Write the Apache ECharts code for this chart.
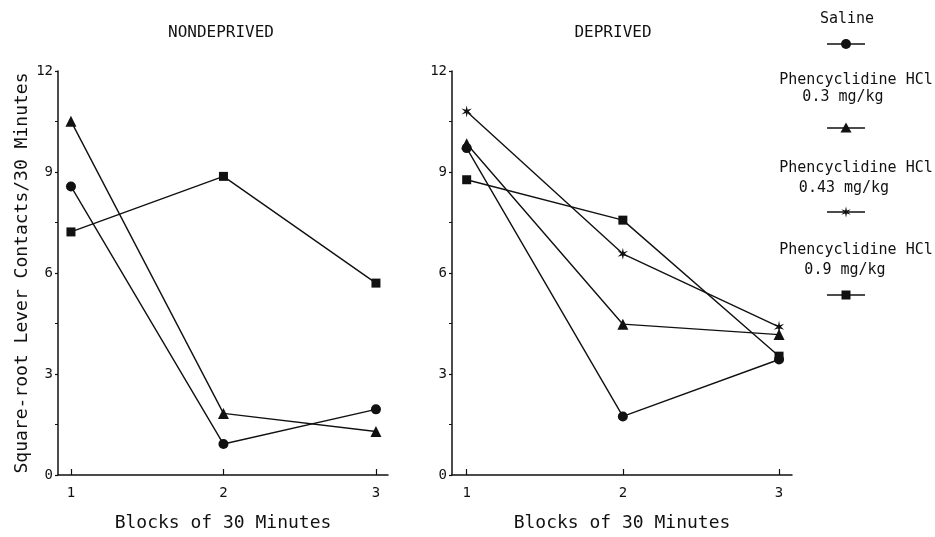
<!DOCTYPE html>
<html>
<head>
<meta charset="utf-8">
<script src="https://cdn.jsdelivr.net/npm/echarts@6/dist/echarts.min.js"></script>
<style>html,body{margin:0;padding:0;background:#fff;}#c{width:935px;height:537px;}</style>
</head>
<body>
<div id="c"></div>
<script>
// ---- data ----
const blocks = [1, 2, 3];
const yTicks = [0, 3, 6, 9, 12];
const panelTitles = ['NONDEPRIVED', 'DEPRIVED'];
const xAxisName = 'Blocks of 30 Minutes';
const yAxisName = 'Square-root Lever Contacts/30 Minutes';
const seriesNames = ['Saline', 'Phencyclidine HCl 0.3 mg/kg', 'Phencyclidine HCl 0.43 mg/kg', 'Phencyclidine HCl 0.9 mg/kg'];
// Nondeprived panel
const nondepSaline = [8.57, 0.92, 1.95];
const nondepPcp03 = [10.51, 1.83, 1.29];
const nondepPcp09 = [7.22, 8.87, 5.70];
// Deprived panel
const depSaline = [9.71, 1.74, 3.43];
const depPcp03 = [9.84, 4.48, 4.17];
const depPcp043 = [10.80, 6.57, 4.40];
const depPcp09 = [8.77, 7.57, 3.53];

// ---- style ----
const FONT = 'DejaVu Sans Mono';
const INK = '#111';
function starPath() {
  const pts = [];
  for (let i = 0; i < 12; i++) {
    const a = -Math.PI / 2 + i * Math.PI / 6;
    const r = i % 2 === 0 ? 10 : 3.2;
    pts.push((10 + r * Math.cos(a)).toFixed(2) + ' ' + (10 + r * Math.sin(a)).toFixed(2));
  }
  return 'path://M' + pts.join(' L') + ' Z';
}
const STAR = starPath();
const markers = {
  saline: { symbol: 'circle', size: 10 },
  pcp03: { symbol: 'triangle', size: 11 },
  pcp043: { symbol: STAR, size: 12 },
  pcp09: { symbol: 'rect', size: 9 }
};

function pairs(vals) { return blocks.map((b, i) => [b, vals[i]]); }
function mkSeries(name, vals, mk, idx) {
  return {
    name: name, type: 'line', xAxisIndex: idx, yAxisIndex: idx,
    data: pairs(vals), symbol: mk.symbol, symbolSize: mk.size, symbolKeepAspect: true,
    itemStyle: { color: INK }, lineStyle: { color: INK, width: 1.4 },
    animation: false
  };
}

const grids = [
  { left: 58, top: 71, width: 330, height: 408 },
  { left: 452, top: 71, width: 340, height: 408 }
];
const xRanges = [[0.915, 3.079], [0.906, 3.083]];

const xAxes = grids.map((g, i) => ({
  type: 'value', gridIndex: i, min: xRanges[i][0], max: xRanges[i][1],
  name: xAxisName, nameLocation: 'middle', nameGap: 39,
  nameTextStyle: { fontFamily: FONT, fontSize: 18, color: INK },
  axisLine: { lineStyle: { color: INK, width: 1.5 } },
  axisTick: { inside: true, length: 6, customValues: blocks, lineStyle: { color: INK, width: 1.2 } },
  axisLabel: { customValues: blocks, margin: 11, fontFamily: FONT, fontSize: 14, color: INK },
  splitLine: { show: false }
}));
const yAxes = grids.map((g, i) => ({
  type: 'value', gridIndex: i, min: 0, max: 12, interval: 3,
  name: i === 0 ? yAxisName : '', nameLocation: 'middle', nameGap: 27,
  nameTextStyle: { fontFamily: FONT, fontSize: 18, color: INK },
  axisLine: { show: true, lineStyle: { color: INK, width: 1.5 } },
  axisTick: { show: true, length: 3, lineStyle: { color: INK, width: 1.2 } },
  minorTick: { show: true, splitNumber: 2, length: 3, lineStyle: { color: INK } },
  axisLabel: { margin: 5, fontFamily: FONT, fontSize: 14, color: INK },
  splitLine: { show: false }
}));

const series = [
  mkSeries(seriesNames[0], nondepSaline, markers.saline, 0),
  mkSeries(seriesNames[1], nondepPcp03, markers.pcp03, 0),
  mkSeries(seriesNames[3], nondepPcp09, markers.pcp09, 0),
  mkSeries(seriesNames[0], depSaline, markers.saline, 1),
  mkSeries(seriesNames[1], depPcp03, markers.pcp03, 1),
  mkSeries(seriesNames[2], depPcp043, markers.pcp043, 1),
  mkSeries(seriesNames[3], depPcp09, markers.pcp09, 1)
];

// ---- titles & legend (graphic) ----
function txt(s, x, y, size, align) {
  return { type: 'text', x: x, y: y, silent: true,
    style: { text: s, fontFamily: FONT, fontSize: size, fill: INK, align: align || 'center', verticalAlign: 'middle' } };
}
const graphic = [
  txt(panelTitles[0], 221, 33, 16),
  txt(panelTitles[1], 613, 33, 16)
];
const LX = 846;
function legendMarker(y, kind) {
  const els = [{ type: 'line', silent: true, shape: { x1: LX - 19, y1: y, x2: LX + 19, y2: y }, style: { stroke: INK, lineWidth: 1.4 } }];
  if (kind === 'circle') els.push({ type: 'circle', silent: true, shape: { cx: LX, cy: y, r: 5 }, style: { fill: INK } });
  if (kind === 'triangle') els.push({ type: 'polygon', silent: true, shape: { points: [[LX, y - 5.5], [LX + 5.5, y + 4.5], [LX - 5.5, y + 4.5]] }, style: { fill: INK } });
  if (kind === 'rect') els.push({ type: 'rect', silent: true, shape: { x: LX - 4.5, y: y - 4.5, width: 9, height: 9 }, style: { fill: INK } });
  if (kind === 'star') {
    const pts = [];
    for (let i = 0; i < 12; i++) {
      const a = -Math.PI / 2 + i * Math.PI / 6;
      const r = i % 2 === 0 ? 5.5 : 1.8;
      pts.push([LX + r * Math.cos(a), y + r * Math.sin(a)]);
    }
    els.push({ type: 'polygon', silent: true, shape: { points: pts }, style: { fill: INK } });
  }
  return els;
}
graphic.push(txt('Saline', 847, 19, 15));
graphic.push(...legendMarker(44, 'circle'));
graphic.push(txt('Phencyclidine HCl', 856, 80, 15));
graphic.push(txt('0.3 mg/kg', 843, 97, 15));
graphic.push(...legendMarker(128, 'triangle'));
graphic.push(txt('Phencyclidine HCl', 856, 168, 15));
graphic.push(txt('0.43 mg/kg', 844, 188, 15));
graphic.push(...legendMarker(212, 'star'));
graphic.push(txt('Phencyclidine HCl', 856, 250, 15));
graphic.push(txt('0.9 mg/kg', 845, 270, 15));
graphic.push(...legendMarker(295, 'rect'));

const chart = echarts.init(document.getElementById('c'), null, { renderer: 'canvas' });
chart.setOption({
  backgroundColor: '#fff',
  animation: false,
  grid: grids,
  xAxis: xAxes,
  yAxis: yAxes,
  series: series,
  graphic: graphic
});
</script>
</body>
</html>
